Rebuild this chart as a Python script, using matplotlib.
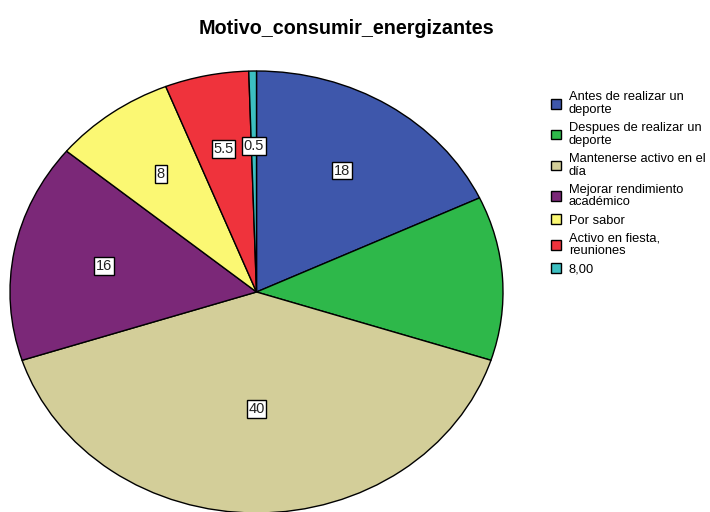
import matplotlib
matplotlib.use("Agg")
import matplotlib.pyplot as plt
import numpy as np

categories = ["Antes de realizar un\ndeporte", "Despues de realizar un\ndeporte",
              "Mantenerse activo en el\ndía", "Mejorar rendimiento\nacadémico",
              "Por sabor", "Activo en fiesta,\nreuniones", "8,00"]
values = [18, 12, 40, 16, 8, 5.5, 0.5]
value_labels = ["18", "", "40", "16", "8", "5.5", "0.5"]
colors = ["#3E57AB", "#2EB84A", "#D3CE99", "#7B2878", "#FBF873", "#EF333C", "#3CBFC1"]
label_radius = [0.65, 0.64, 0.53, 0.63, 0.66, 0.66, 0.66]

plt.rcParams['font.family'] = ['Liberation Sans', 'DejaVu Sans']

fig = plt.figure(figsize=(7.10, 5.12), dpi=100)
W, H = 710, 512
cx, cy, rx, ry = 256.5, 292, 246.5, 221
ax = fig.add_axes([(cx - rx) / W, (H - cy - ry) / H, 2 * rx / W, 2 * ry / H])
ax.set_clip_on(False)

wedges, _ = ax.pie(values, colors=colors, startangle=90, counterclock=False,
                   wedgeprops=dict(edgecolor="black", linewidth=1.0))
for w in wedges:
    w.set_clip_on(False)
ax.set_aspect('auto')
ax.set_xlim(-1, 1)
ax.set_ylim(-1, 1)
ax.axis('off')

total = sum(values)
cum = 0
for v, lab, r in zip(values, value_labels, label_radius):
    mid = cum + v / 2
    cum += v
    if not lab:
        continue
    ang = np.deg2rad(90 - 360 * mid / total)
    ax.text(r * np.cos(ang), r * np.sin(ang), lab, ha='center', va='center',
            fontsize=10.5, color='#222222',
            bbox=dict(boxstyle='square,pad=0.12', facecolor='white',
                      edgecolor='black', linewidth=1.0))

fig.text(346 / W, 1 - 29 / H, "Motivo_consumir_energizantes", ha='center',
         va='center', fontsize=14.2, fontweight='bold')

leg = fig.legend(wedges, categories, loc='upper left',
                 bbox_to_anchor=(545 / W, 1 - 85 / H), frameon=False,
                 fontsize=9.3, handlelength=0.75, handleheight=0.75,
                 handletextpad=0.6, labelspacing=0.45, borderpad=0)
for t in leg.get_texts():
    t.set_linespacing(1.1)

fig.savefig("out.png", dpi=100)
